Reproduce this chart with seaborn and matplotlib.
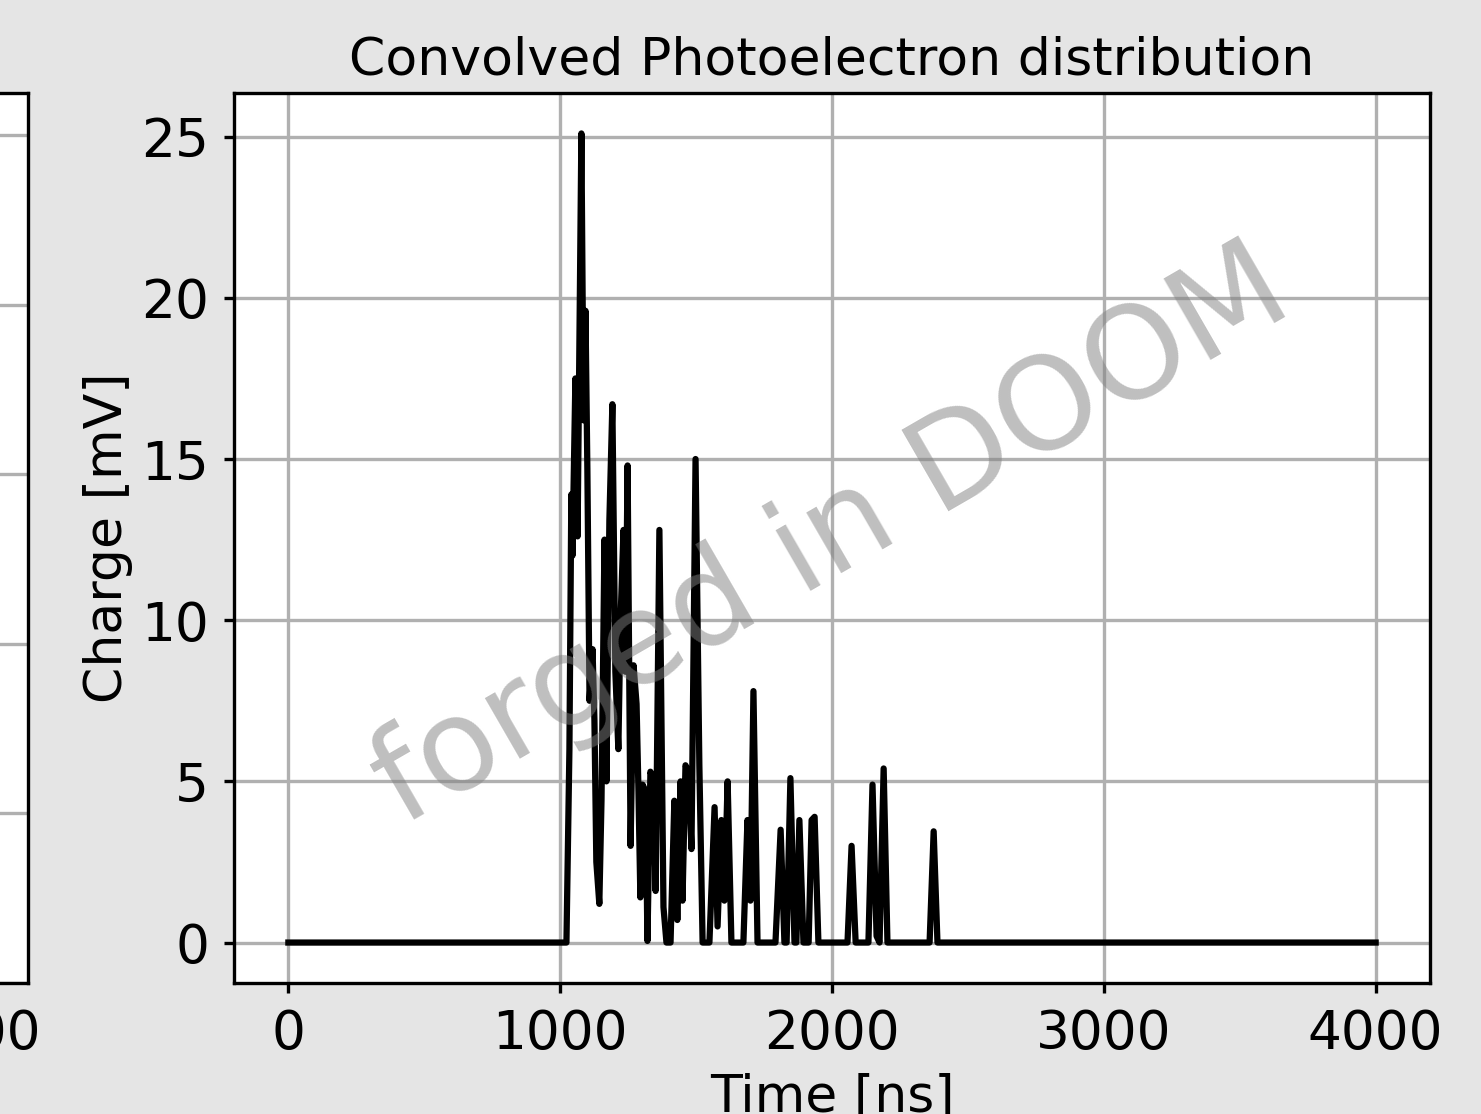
import numpy as np
import pandas as pd
import seaborn as sns
import matplotlib
matplotlib.use("Agg")
import matplotlib.pyplot as plt

# convolved waveform, vertices (time in ns, charge in mV)
times = [0, 1023, 1034, 1041, 1045, 1056, 1064, 1078, 1086, 1093,
         1100, 1108, 1119, 1126, 1133, 1144, 1152, 1163, 1170, 1181,
         1192, 1203, 1214, 1222, 1233, 1240, 1248, 1259, 1270, 1281,
         1288, 1295, 1303, 1314, 1321, 1332, 1343, 1351, 1365, 1380,
         1391, 1406, 1420, 1431, 1443, 1450, 1461, 1472, 1483, 1498,
         1512, 1524, 1549, 1568, 1579, 1593, 1604, 1616, 1630, 1674,
         1689, 1700, 1711, 1726, 1792, 1811, 1825, 1833, 1847, 1862,
         1869, 1880, 1895, 1914, 1925, 1936, 1950, 2057, 2072, 2087,
         2134, 2149, 2164, 2175, 2190, 2204, 2359, 2374, 2388, 4000]
charge = [0, 0, 6.0, 13.9, 12.0, 17.5, 12.6, 25.1, 16.2, 19.6,
          14.7, 7.5, 9.1, 6.9, 2.5, 1.2, 4.4, 12.5, 5.0, 13.1,
          16.7, 8.4, 6.0, 10.0, 12.8, 8.4, 14.8, 3.0, 8.6, 7.4,
          4.7, 1.4, 4.9, 4.7, 0.05, 5.3, 5.0, 1.6, 12.8, 1.1,
          0, 0, 4.4, 0.7, 5.0, 1.3, 5.5, 5.3, 2.9, 15.0,
          5.5, 0, 0, 4.2, 0.5, 3.8, 1.3, 5.0, 0, 0,
          3.8, 1.3, 7.8, 0, 0, 3.5, 0, 0, 5.1, 0,
          0, 3.8, 0, 0, 3.8, 3.9, 0, 0, 3.0, 0,
          0, 4.9, 0.2, 0, 5.4, 0, 0, 3.45, 0, 0]

x_ticks = [0, 1000, 2000, 3000, 4000]
left_y_ticks = [0, 1, 2, 3, 4, 5]

plt.rcParams['xtick.labelsize'] = 12.8
plt.rcParams['ytick.labelsize'] = 12.8
plt.rcParams['axes.labelsize'] = 12.5
plt.rcParams['xtick.major.size'] = 2.5
plt.rcParams['ytick.major.size'] = 2.5
plt.rcParams['xtick.major.pad'] = 3.5
plt.rcParams['ytick.major.pad'] = 3.5

fig = plt.figure(figsize=(1481 / 300, 1114 / 300), dpi=300, facecolor='#e5e5e5')

# left panel, mostly outside the canvas
ax0 = fig.add_axes([(28 - 1196) / 1481, 131 / 1114, 1196 / 1481, 890 / 1114])
ax0.set_xlim(-200, 4200)
ax0.set_ylim(0, 5.25)
ax0.set_xticks(x_ticks)
ax0.set_yticks(left_y_ticks)
ax0.grid(True)

# main panel
ax = fig.add_axes([234 / 1481, 131 / 1114, 1196 / 1481, 890 / 1114])
df = pd.DataFrame({'time': times, 'charge': charge})
sns.lineplot(data=df, x='time', y='charge', color='black', ax=ax)
ax.set_xticks(x_ticks)
ax.grid(True)
ax.set_title('Convolved Photoelectron distribution', fontsize=12.5, pad=4.5)
ax.set_xlabel('Time [ns]', labelpad=3)
ax.set_ylabel('Charge [mV]', labelpad=2)

ax.text(0.5, 0.5, 'forged in DOOM', transform=ax.transAxes, fontsize=31,
        color='gray', alpha=0.5, rotation=30, ha='center', va='center')

fig.savefig('out.png', dpi=300, facecolor=fig.get_facecolor())
